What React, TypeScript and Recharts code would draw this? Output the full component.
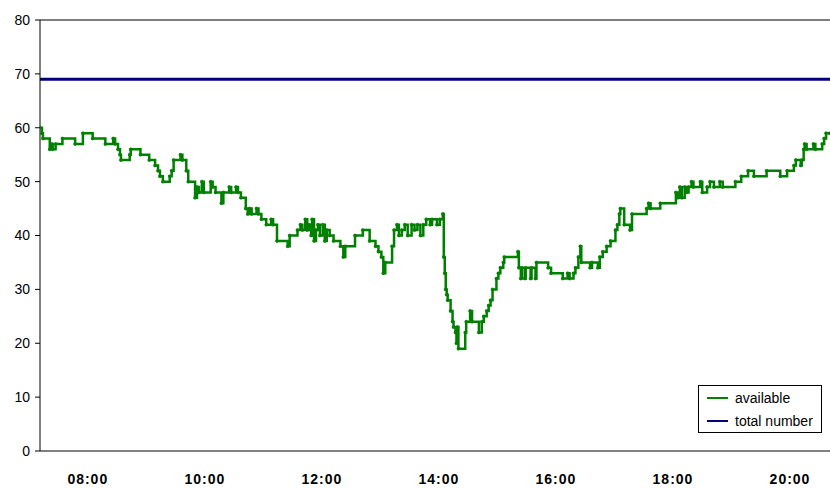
import { LineChart, Line, XAxis, YAxis, ReferenceLine } from "recharts";

// minutes since midnight
const times = [
  431, 433, 434, 441, 443, 444, 447, 454, 467, 475,
  485, 498, 506, 508, 511, 513, 514, 523, 524, 534,
  543, 549, 552, 554, 557, 564, 566, 568, 575, 577,
  581, 583, 590, 592, 594, 597, 599, 606, 608, 611,
  617, 619, 625, 627, 632, 634, 637, 642, 644, 646,
  648, 653, 655, 658, 663, 668, 670, 674, 685, 687,
  695, 698, 700, 703, 705, 707, 709, 710, 712, 714,
  716, 718, 721, 723, 725, 728, 732, 739, 742, 744,
  754, 762, 769, 775, 778, 781, 783, 785, 792, 794,
  797, 799, 802, 805, 808, 812, 815, 818, 821, 824,
  827, 831, 833, 838, 841, 844, 845, 846, 847, 848,
  849, 852, 854, 855, 857, 858, 859, 860, 867, 868,
  872, 874, 881, 884, 886, 889, 891, 893, 895, 899,
  901, 903, 906, 907, 921, 922, 924, 925, 928, 929,
  934, 935, 939, 940, 952, 955, 967, 972, 974, 978,
  980, 983, 985, 986, 995, 997, 1003, 1005, 1008, 1012,
  1016, 1021, 1023, 1025, 1026, 1030, 1036, 1038, 1053, 1055,
  1057, 1067, 1083, 1085, 1087, 1089, 1092, 1094, 1096, 1099,
  1101, 1108, 1110, 1115, 1118, 1122, 1128, 1131, 1144, 1150,
  1157, 1163, 1176, 1190, 1197, 1204, 1206, 1211, 1212, 1214,
  1215, 1217, 1224, 1226, 1233, 1235, 1237, 1241,
];

const available = [
  60, 59, 58, 56, 57, 56, 57, 58, 57, 59,
  58, 57, 58, 57, 56, 55, 54, 55, 56, 55,
  54, 53, 52, 51, 50, 51, 52, 54, 55, 54,
  52, 50, 47, 49, 48, 50, 48, 50, 49, 48,
  46, 48, 49, 48, 49, 48, 47, 45, 44, 45,
  44, 45, 44, 43, 42, 43, 42, 39, 38, 40,
  41, 42, 41, 43, 41, 42, 40, 43, 39, 41,
  42, 40, 42, 39, 41, 40, 39, 38, 36, 38,
  40, 41, 39, 38, 37, 36, 33, 35, 38, 41,
  42, 40, 41, 42, 40, 42, 41, 42, 40, 42,
  43, 42, 43, 42, 43, 44, 36, 33, 30, 29,
  28, 26, 24, 23, 22, 20, 23, 19, 22, 24,
  26, 24, 22, 24, 25, 26, 27, 28, 30, 32,
  33, 34, 35, 36, 37, 34, 32, 34, 32, 34,
  32, 34, 32, 35, 34, 33, 32, 33, 32, 33,
  34, 36, 38, 35, 34, 35, 34, 36, 37, 38,
  39, 41, 42, 44, 45, 42, 41, 44, 45, 46,
  45, 46, 48, 47, 49, 47, 49, 48, 49, 50,
  49, 50, 48, 49, 50, 49, 50, 49, 50, 51,
  52, 51, 52, 51, 52, 53, 54, 53, 54, 56,
  57, 56, 57, 56, 57, 58, 59, 59,
];

const totalNumber = 69;

const hourTicks = [480, 600, 720, 840, 960, 1080, 1200];
const yTicks = [0, 10, 20, 30, 40, 50, 60, 70, 80];

const data = times.map((t, i) => ({ t, available: available[i] }));
const totalData = [
  { t: times[0], total: totalNumber },
  { t: times[times.length - 1], total: totalNumber },
];

const fmtTime = (m: number) => {
  const h = Math.floor(m / 60);
  const mm = m % 60;
  return `${h < 10 ? "0" : ""}${h}:${mm < 10 ? "0" : ""}${mm}`;
};

const legendItems = [
  { label: "available", color: "#008000" },
  { label: "total number", color: "#000080" },
];

function ChartLegend() {
  return (
    <svg
      width={124}
      height={48}
      style={{ position: "absolute", left: 698, top: 385, display: "block" }}
    >
      <rect x={0.5} y={0.5} width={123} height={47} fill="#fff" stroke="#000" />
      {legendItems.map((it, i) => (
        <g key={it.label}>
          <line x1={9} x2={30} y1={13 + i * 23} y2={13 + i * 23} stroke={it.color} strokeWidth={2} />
          <text x={37} y={18 + i * 23} fontSize={14} fill="#000">
            {it.label}
          </text>
        </g>
      ))}
    </svg>
  );
}

export default function App() {
  return (
    <div
      style={{
        position: "absolute",
        left: 0,
        top: 0,
        width: 830,
        height: 489,
        background: "#fff",
        fontFamily: '"Liberation Sans", Arial, sans-serif',
      }}
    >
      <LineChart width={830} height={489} margin={{ top: 20, right: 0, bottom: 0, left: 0 }}>
        <XAxis
          type="number"
          dataKey="t"
          domain={[431, 1241]}
          ticks={hourTicks}
          tickFormatter={fmtTime}
          allowDataOverflow
          height={38}
          axisLine={{ stroke: "#000" }}
          tickLine={false}
          tickSize={0}
          tickMargin={23}
          tick={{ fill: "#000", fontSize: 14, fontWeight: 700, letterSpacing: 1 }}
        />
        <YAxis
          type="number"
          domain={[0, 80]}
          ticks={yTicks}
          width={40}
          axisLine={{ stroke: "#000" }}
          tickLine={{ stroke: "#000" }}
          tickSize={5}
          tickMargin={5}
          tick={{ fill: "#000", fontSize: 14 }}
        />
        <ReferenceLine y={80} stroke="#000" />
        <Line
          data={data}
          dataKey="available"
          type="stepAfter"
          stroke="#008000"
          strokeWidth={2.5}
          dot={{ r: 1.5, fill: "#008000", stroke: "#008000", strokeWidth: 0.6 }}
          isAnimationActive={false}
        />
        <Line
          data={totalData}
          dataKey="total"
          type="linear"
          stroke="#000080"
          strokeWidth={3}
          dot={false}
          isAnimationActive={false}
        />
      </LineChart>
      <ChartLegend />
    </div>
  );
}
